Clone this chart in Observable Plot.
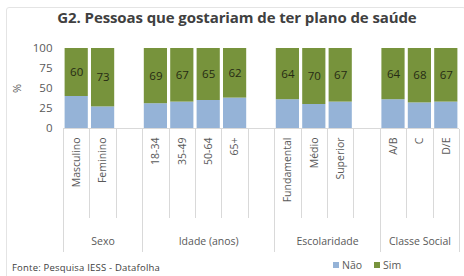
<!DOCTYPE html>
<html>
<head>
<meta charset="utf-8">
<script src="https://cdn.jsdelivr.net/npm/d3@7"></script>
<script src="https://cdn.jsdelivr.net/npm/@observablehq/plot@0.6"></script>
<style>
  html, body { margin: 0; padding: 0; background: #fff; }
  #wrap { position: relative; width: 464px; height: 276px; overflow: hidden; font-family: "Open Sans", "Liberation Sans", sans-serif; }
  #frame { position: absolute; left: 6px; top: 7px; width: 460px; height: 275px; border: 1px solid #e4e4e4; border-radius: 3px; box-sizing: border-box; }
  #title { position: absolute; left: 0; width: 474px; top: 7px; text-align: center; font-weight: bold; font-size: 15px; color: #404040; letter-spacing: -0.1px; }
  #chart { position: absolute; left: 0; top: 0; }
  #footer { position: absolute; left: 12px; top: 261px; font-size: 9.5px; color: #404040; letter-spacing: 0.2px; }
  #legend { position: absolute; left: 333px; top: 258px; font-size: 10.5px; color: #595959; display: flex; gap: 12px; }
  #legend span.sw { display: inline-block; width: 6px; height: 6px; margin-right: 3px; vertical-align: middle; position: relative; top: -1px; }
</style>
</head>
<body>
<div id="wrap">
  <div id="frame"></div>
  <div id="chart"></div>
  <div id="title"></div>
  <div id="footer"></div>
  <div id="legend"></div>
</div>
<script>
const title = "G2. Pessoas que gostariam de ter plano de saúde";
const source = "Fonte: Pesquisa IESS - Datafolha";
const categories = ["Masculino", "Feminino", "18-34", "35-49", "50-64", "65+", "Fundamental", "Médio", "Superior", "A/B", "C", "D/E"];
const groups = ["Sexo", "Idade (anos)", "Escolaridade", "Classe Social"];
const groupOf = [0, 0, 1, 1, 1, 1, 2, 2, 2, 3, 3, 3];
const sim = [60, 73, 69, 67, 65, 62, 64, 70, 67, 64, 68, 67];
const nao = [40, 27, 31, 33, 35, 38, 36, 30, 33, 36, 32, 33];
const series = ["Não", "Sim"];
const colors = ["#95b3d7", "#77933c"];
const yTicks = [0, 25, 50, 75, 100];

// slot index: each group is followed by one empty slot (except the last)
const slots = categories.map((c, i) => i + groupOf[i]);
const nSlots = slots[slots.length - 1] + 1;
const groupStart = groups.map((g, gi) => slots[groupOf.indexOf(gi)]);
const groupEnd = groups.map((g, gi) => gi < groups.length - 1 ? groupStart[gi + 1] : nSlots);

const rows = [];
categories.forEach((c, i) => {
  rows.push({slot: slots[i], cat: c, series: "Não", value: nao[i]});
  rows.push({slot: slots[i], cat: c, series: "Sim", value: sim[i]});
});
const simLabels = categories.map((c, i) => ({slot: slots[i], mid: nao[i] + sim[i] / 2, v: sim[i]}));
const groupRows = groups.map((g, gi) => ({g, mid: (groupStart[gi] + groupEnd[gi]) / 2}));

const longLines = [...groupStart, nSlots];
const shortLines = d3.range(1, nSlots).filter(b => !longLines.includes(b));

const plot = Plot.plot({
  width: 464,
  height: 276,
  marginLeft: 63,
  marginRight: 5,
  marginTop: 48,
  marginBottom: 148,
  style: {fontFamily: "'Open Sans', 'Liberation Sans', sans-serif", background: "transparent", overflow: "visible"},
  x: {domain: [0, nSlots], axis: null},
  y: {domain: [0, 100], axis: null},
  color: {domain: series, range: colors},
  marks: [
    Plot.rectY(rows, Plot.stackY({x1: "slot", x2: d => d.slot + 1, y: "value", fill: "series", order: series, insetLeft: 1.6, insetRight: 1.6})),
    Plot.text(simLabels, {x: d => d.slot + 0.5, y: "mid", text: d => String(d.v), fontSize: 11.5, fill: "#262b14"}),
    Plot.text(yTicks, {x: 0, y: d => d, text: d => String(d), textAnchor: "end", dx: -11, fontSize: 11.5, fill: "#595959"}),
    Plot.text(["%"], {x: 0, y: 50, text: d => d, rotate: -90, dx: -46, fontSize: 11, fill: "#595959"}),
    Plot.text(categories.map((c, i) => ({slot: slots[i], c})), {x: d => d.slot + 0.5, y: 0, text: "c", rotate: -90, textAnchor: "end", dy: 9, fontSize: 10.5, fill: "#595959"}),
    Plot.text(groupRows, {x: "mid", y: 0, text: "g", dy: 113, fontSize: 10.5, fill: "#595959"})
  ]
});
document.getElementById("chart").appendChild(plot);

// category table lines drawn with the plot's own scales
const xs = plot.scale("x"), ys = plot.scale("y");
const svg = d3.select(plot);
const y0 = ys.apply(0);
const g = svg.append("g").attr("stroke", "#d9d9d9").attr("stroke-width", 1);
g.selectAll("line.s").data(shortLines).join("line")
  .attr("x1", d => Math.round(xs.apply(d)) + 0.5).attr("x2", d => Math.round(xs.apply(d)) + 0.5)
  .attr("y1", y0 + 1).attr("y2", y0 + 90);
g.selectAll("line.l").data(longLines).join("line")
  .attr("x1", d => Math.round(xs.apply(d)) + 0.5).attr("x2", d => Math.round(xs.apply(d)) + 0.5)
  .attr("y1", y0 + 1).attr("y2", y0 + 124);
g.append("line").attr("x1", xs.apply(0)).attr("x2", xs.apply(nSlots)).attr("y1", y0 + 0.5).attr("y2", y0 + 0.5);

document.getElementById("title").textContent = title;
document.getElementById("footer").textContent = source;
const leg = document.getElementById("legend");
series.forEach((s, i) => {
  const item = document.createElement("div");
  item.innerHTML = `<span class="sw" style="background:${colors[i]}"></span>${s}`;
  leg.appendChild(item);
});
</script>
</body>
</html>
